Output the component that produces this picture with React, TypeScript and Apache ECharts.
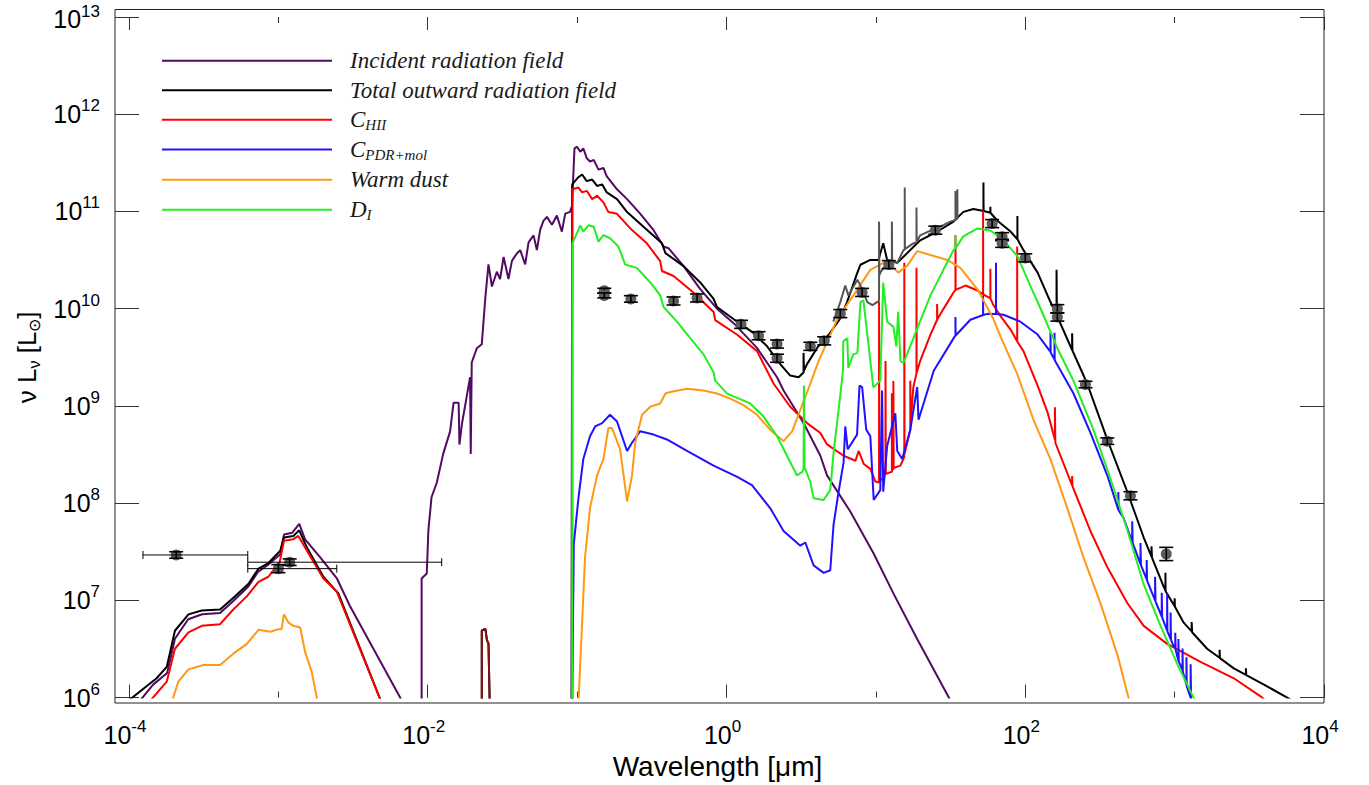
import React, { useEffect, useRef } from 'react';
import * as echarts from 'echarts';

// ---------------- data (wavelength in micron, nu L_nu in L_sun) ----------------
const incidentXray = [[1.13e-4,8.5e5],[1.45e-4,1.36e6],[1.8e-4,1.79e6],[2.03e-4,4.03e6],[2.49e-4,6.4e6],[3.09e-4,7.2e6],[4.07e-4,7.4e6],[4.97e-4,9.8e6],[6.27e-4,1.38e7],[7.3e-4,1.96e7],[8.5e-4,2.31e7],[1.03e-3,2.98e7],[1.09e-3,4.75e7],[1.24e-3,4.97e7],[1.38e-3,6.13e7],[1.51e-3,4.23e7],[1.9e-3,2.78e7],[2.47e-3,1.67e7],[3.02e-3,8.7e6],[7.05e-3,8.1e5]];
const incidentUv = [[9.1e-3,8.5e5],[9.1e-3,1.68e7],[9.85e-3,1.89e7],[1.01e-2,5.27e7],[1.06e-2,1.15e8],[1.15e-2,1.63e8],[1.27e-2,3.23e8],[1.41e-2,5.44e8],[1.49e-2,1.08e9],[1.61e-2,1.08e9],[1.63e-2,4.0e8],[1.69e-2,6.4e8],[1.83e-2,1.29e9],[1.92e-2,1.97e9],[1.94e-2,3.2e8],[1.97e-2,2.79e9],[2.13e-2,3.92e9],[2.3e-2,4.3e9],[2.43e-2,1.31e10],[2.55e-2,2.85e10],[2.69e-2,1.69e10],[2.9e-2,2.4e10],[3.05e-2,2.02e10],[3.22e-2,3.4e10],[3.47e-2,2.02e10],[3.66e-2,3.1e10],[3.95e-2,3.7e10],[4.16e-2,4.0e10],[4.49e-2,2.85e10],[4.73e-2,4.8e10],[5.11e-2,5.67e10],[5.38e-2,4.0e10],[5.66e-2,6.5e10],[5.95e-2,8.0e10],[6.28e-2,8.8e10],[6.78e-2,7.3e10],[7.32e-2,9.1e10],[7.9e-2,6.2e10],[8.33e-2,9.5e10],[8.98e-2,9.9e10],[9.24e-2,1.14e11],[9.6e-2,4.45e11],[0.0997,4.63e11],[0.105,4.11e11],[0.11,4.45e11],[0.116,3.53e11],[0.122,3.26e11],[0.129,3.39e11],[0.139,2.69e11],[0.15,2.8e11],[0.158,2.3e11],[0.185,1.69e11],[0.216,1.34e11],[0.264,9.5e10],[0.325,6.42e10],[0.379,4.36e10],[0.409,4.19e10],[0.516,2.74e10],[0.667,1.59e10],[0.864,1.0e10],[1.12,7.06e9],[1.6,3.95e9],[2.18,1.97e9],[2.41,1.44e9],[3.28,6.66e8],[4.25,3.07e8],[4.71,1.93e8],[6.74,8.2e7],[9.7,3.0e7],[13.1,1.18e7],[18.9,4.0e6],[30.8,1.0e6],[32.6,8.5e5]];

const totalXray = [[1.0e-4,9.4e5],[1.53e-4,1.58e6],[1.79e-4,2.07e6],[2.03e-4,4.87e6],[2.5e-4,7.18e6],[3.07e-4,7.88e6],[4.07e-4,8.06e6],[5.13e-4,1.1e7],[6.29e-4,1.47e7],[7.36e-4,2.12e7],[8.57e-4,2.42e7],[1.03e-3,3.25e7],[1.09e-3,4.43e7],[1.26e-3,4.6e7],[1.38e-3,5.25e7],[1.55e-3,3.51e7],[2.0e-3,1.75e7],[2.52e-3,1.18e7],[4.96e-3,8.5e5]];
const euvBump = [[2.3e-2,8.5e5],[2.3e-2,4.9e6],[2.43e-2,5.1e6],[2.49e-2,3.9e6],[2.55e-2,3.6e6],[2.6e-2,8.5e5]];
const totalMain = [[9.17e-2,8.5e5],[9.27e-2,1.9e11],[0.102,2.25e11],[0.108,2.4e11],[0.116,2.05e11],[0.126,2.13e11],[0.136,1.83e11],[0.147,1.9e11],[0.158,1.57e11],[0.185,1.34e11],[0.216,9.85e10],[0.278,6.95e10],[0.37,4.7e10],[0.39,3.73e10],[0.516,2.74e10],[0.667,1.86e10],[0.82,1.26e10],[0.864,1.04e10],[1.18,7.35e9],[1.52,5.6e9],[1.87,4.1e9],[2.29,2.69e9],[2.67,2.05e9],[3.04,1.97e9],[3.28,2.21e9],[3.28,3.51e9],[3.3,2.3e9],[3.46,2.69e9],[4.04,3.95e9],[4.83,5.39e9],[5.78,7.93e9],[6.41,1.17e10],[7.52,2.35e10],[7.88,2.83e10],[9.18,3.17e10],[10.4,3.17e10],[11.2,4.7e10],[11.9,3.17e10],[13.9,2.96e10],[16.2,3.73e10],[19.8,5.05e10],[25.8,6.22e10],[33.1,7.86e10],[38.5,9.9e10],[45,1.06e11],[52.5,1.01e11],[52.5,1.99e11],[52.6,1.01e11],[58.4,9.7e10],[58.4,1.12e11],[58.5,9.7e10],[65.1,8.03e10],[79.7,6.22e10],[88.6,5.17e10],[88.6,9.0e10],[88.7,5.17e10],[97.3,4.0e10],[121,2.35e10],[147.5,1.17e10],[162,8.66e9],[162,2.51e10],[163,8.5e9],[180,6.0e9],[206,3.74e9],[206,5.6e9],[207,3.7e9],[224,2.83e9],[260,1.69e9],[354,4.52e8],[482,1.31e8],[621,4.43e7],[700,2.82e7],[700,3.6e7],[705,2.75e7],[846,1.38e7],[868,1.26e7],[868,1.92e7],[870,1.24e7],[1000,8.7e6],[1000,1.05e7],[1005,8.6e6],[1150,5.9e6],[1300,4.8e6],[1300,6.0e6],[1310,4.7e6],[1650,3.18e6],[2000,2.57e6],[2000,3.1e6],[2010,2.55e6],[2490,2.0e6],[3000,1.71e6],[3000,2.0e6],[3020,1.7e6],[3960,1.36e6],[5670,1.0e6],[6450,8.9e5]];

const hiiXray = [[1.32e-4,8.5e5],[1.79e-4,1.46e6],[2.03e-4,3.18e6],[2.5e-4,4.68e6],[3.07e-4,5.47e6],[4.07e-4,5.69e6],[4.99e-4,8.06e6],[6.15e-4,1.1e7],[7.36e-4,1.55e7],[8.57e-4,1.75e7],[1.02e-3,2.47e7],[1.09e-3,4.1e7],[1.26e-3,4.26e7],[1.36e-3,4.6e7],[1.55e-3,3.25e7],[2.0e-3,1.68e7],[2.46e-3,1.23e7],[4.96e-3,8.5e5]];
const hiiMain = [[9.27e-2,8.5e5],[9.3e-2,1.69e11],[0.102,1.76e11],[0.108,1.57e11],[0.116,1.63e11],[0.126,1.34e11],[0.136,1.45e11],[0.15,1.24e11],[0.162,9.85e10],[0.185,9.45e10],[0.227,6.69e10],[0.293,4.7e10],[0.36,3.08e10],[0.37,2.44e10],[0.442,2.17e10],[0.6,1.47e10],[0.82,9.25e9],[0.84,7.64e9],[1.18,5.39e9],[1.6,3.66e9],[2.07,1.69e9],[2.67,9.8e8],[3.46,6.66e8],[4.25,5.27e8],[4.71,4.02e8],[6.08,3.07e8],[7.3,2.73e8],[7.67,3.44e8],[8.29,2.53e8],[9.18,2.25e8],[9.92,1.67e8],[10.5,1.63e8],[10.5,1.17e10],[10.55,1.7e8],[11.05,1.78e8],[11.6,2.0e8],[11.6,2.9e9],[11.65,2.0e8],[12.8,2.1e8],[12.8,1.35e9],[12.85,2.2e8],[13.1,2.25e8],[13.1,1.8e9],[13.15,2.3e8],[14.6,2.43e8],[15.5,3.0e8],[15.5,2.96e10],[15.55,3.2e8],[16.6,4.88e8],[17.0,5.7e8],[17.0,1.82e9],[17.05,6.2e8],[17.8,1.55e9],[18.7,2.16e9],[18.7,2.63e10],[18.75,2.2e9],[19.8,2.9e9],[23.2,5.42e9],[25.7,7.7e9],[25.7,1.12e10],[25.8,7.8e9],[28.3,9.9e9],[33.1,1.47e10],[34.1,1.55e10],[34.1,5.7e10],[34.2,1.56e10],[39.8,1.73e10],[47.9,1.54e10],[52.2,1.4e10],[52.2,1.02e11],[52.3,1.4e10],[58.4,1.28e10],[58.4,2.57e10],[58.5,1.27e10],[61.2,1.09e10],[68.2,8.45e9],[79.7,6.1e9],[88.3,4.62e9],[88.3,4.36e10],[88.4,4.6e9],[97.3,3.66e9],[121,1.62e9],[141,8.6e8],[158,4.5e8],[158,9.7e8],[159,4.18e8],[206,1.52e8],[206,1.9e8],[207,1.5e8],[273,5.17e7],[354,2.2e7],[482,9.4e6],[621,5.47e6],[891,3.57e6],[1490,2.33e6],[2490,1.58e6],[3760,1.03e6],[4060,9.3e5]];

const pdrMain = [[9.27e-2,8.5e5],[9.5e-2,3.79e7],[0.102,1.12e8],[0.11,2.84e8],[0.122,4.88e8],[0.132,6.15e8],[0.147,6.66e8],[0.166,8.1e8],[0.185,6.9e8],[0.216,3.44e8],[0.233,4.18e8],[0.264,5.48e8],[0.325,5.07e8],[0.399,4.52e8],[0.544,3.44e8],[0.82,2.43e8],[1.18,1.86e8],[1.48,1.53e8],[1.96,8.9e7],[2.41,5.17e7],[3.12,3.65e7],[3.37,3.94e7],[3.83,2.29e7],[4.47,1.92e7],[4.95,2.04e7],[5.21,6.03e7],[5.63,1.31e8],[6.08,2.63e8],[6.24,6.15e8],[6.48,3.58e8],[7.48,5.07e8],[7.77,1.62e9],[8.09,1.56e9],[8.62,5.7e8],[9.18,4.88e8],[9.67,1.08e8],[10.7,1.36e8],[11.0,1.44e9],[11.2,1.31e8],[11.9,3.87e8],[13.5,8.4e8],[13.9,3.44e8],[15.0,2.84e8],[17.0,5.7e8],[18.9,1.56e9],[19.3,7.2e8],[24.4,2.3e9],[33.1,4.95e9],[34.1,5.3e9],[34.1,8.2e9],[34.2,5.3e9],[42.9,7.7e9],[52.2,8.6e9],[52.2,1.37e10],[52.3,8.6e9],[55.8,8.85e9],[63.7,8.8e9],[63.7,2.96e10],[63.8,8.8e9],[71.5,8.66e9],[92.8,7.35e9],[121,5.42e9],[147.5,3.6e9],[147.5,5.67e9],[148,3.55e9],[157,3.0e9],[157,5.67e9],[157.5,2.95e9],[210,1.35e9],[273,5.3e8],[355,1.91e8],[420,8.5e7],[420,1.3e8],[422,8.4e7],[455,7.05e7],[520,4.0e7],[520,6.5e7],[524,3.9e7],[591,2.36e7],[591,3.9e7],[595,2.3e7],[650,1.64e7],[650,2.6e7],[654,1.6e7],[740,1.0e7],[740,1.75e7],[745,9.7e6],[768,8.7e6],[820,6.8e6],[820,1.2e7],[825,6.7e6],[891,4.87e6],[891,1.18e7],[895,4.8e6],[940,4.0e6],[940,7.5e6],[945,3.95e6],[980,3.43e6],[1010,3.2e6],[1010,4.65e6],[1015,3.1e6],[1060,2.39e6],[1060,4.0e6],[1066,2.35e6],[1130,1.92e6],[1130,3.2e6],[1135,1.85e6],[1200,1.35e6],[1200,2.6e6],[1206,1.3e6],[1280,1.0e6],[1280,2.2e6],[1290,9.0e5],[1340,8.1e5]];

const warmXray = [[1.91e-4,8.5e5],[2.14e-4,1.46e6],[2.5e-4,1.95e6],[3.15e-4,2.16e6],[4.07e-4,2.16e6],[4.99e-4,2.83e6],[6.15e-4,3.57e6],[7.36e-4,4.98e6],[8.83e-4,4.76e6],[1.0e-3,5.06e6],[1.05e-3,5.06e6],[1.09e-3,7.18e6],[1.17e-3,5.9e6],[1.26e-3,5.47e6],[1.4e-3,5.26e6],[1.51e-3,2.94e6],[1.67e-3,1.85e6],[1.81e-3,1.0e6],[1.83e-3,8.5e5]];
const warmMain = [[0.102,8.5e5],[0.108,5.9e6],[0.113,2.78e7],[0.122,8.9e7],[0.136,1.93e8],[0.15,2.84e8],[0.162,5.94e8],[0.171,5.94e8],[0.194,3.58e8],[0.216,1.04e8],[0.233,1.93e8],[0.245,4.18e8],[0.272,8.1e8],[0.309,9.8e8],[0.36,1.06e9],[0.39,1.34e9],[0.42,1.39e9],[0.544,1.5e9],[0.702,1.44e9],[0.864,1.34e9],[1.06,1.19e9],[1.3,1.02e9],[1.6,8.1e8],[1.96,5.7e8],[2.41,4.34e8],[2.75,5.48e8],[3.12,9.1e8],[3.64,1.69e9],[4.14,2.9e9],[5.53,7.87e9],[7.07,1.37e10],[9.18,2.51e10],[11.9,3.1e10],[14.1,2.35e10],[16.2,2.76e10],[18.9,3.91e10],[23.2,3.56e10],[30.1,3.17e10],[36.8,2.63e10],[47.9,1.58e10],[61.2,7.87e9],[68.2,5.2e9],[88.3,2.14e9],[113.5,7.2e8],[147.5,2.84e8],[191,8.9e7],[245,2.78e7],[319,9.3e6],[415,2.72e6],[491,1.0e6],[511,8.5e5]];

const diMain = [[9.27e-2,8.5e5],[9.3e-2,4.7e10],[0.105,7.2e10],[0.11,6.2e10],[0.119,7.2e10],[0.129,6.95e10],[0.139,4.9e10],[0.15,5.7e10],[0.166,5.3e10],[0.189,4.36e10],[0.21,2.84e10],[0.251,2.63e10],[0.309,1.86e10],[0.36,1.37e10],[0.379,1.04e10],[0.466,7.35e9],[0.572,4.98e9],[0.702,3.39e9],[0.82,2.21e9],[0.84,1.82e9],[1.01,1.34e9],[1.44,1.06e9],[1.77,7.77e8],[2.18,4.88e8],[2.54,3.07e8],[2.96,1.93e8],[3.2,2.08e8],[3.28,2.25e8],[3.3,1.62e9],[3.33,2.34e8],[3.64,1.65e8],[3.83,1.12e8],[4.47,1.08e8],[4.95,1.36e8],[5.21,3.31e8],[5.78,1.29e9],[6.02,2.3e9],[6.05,4.62e9],[6.44,4.95e9],[6.54,2.46e9],[7.07,3.41e9],[7.52,3.49e9],[7.88,1.17e10],[8.25,1.22e10],[8.77,5.42e9],[9.18,2.9e9],[9.62,1.55e9],[10.7,1.82e9],[11.2,1.86e10],[11.9,7.35e9],[13.1,6.5e9],[13.7,4.1e9],[14.1,9.3e9],[14.6,2.9e9],[15.3,2.76e9],[18.9,6.25e9],[23.2,1.37e10],[28.3,2.51e10],[33.1,4.0e10],[34.1,4.2e10],[34.1,5.7e10],[34.2,4.2e10],[38.5,5.54e10],[47.9,6.69e10],[58.4,6.36e10],[71.5,5.05e10],[88.6,3.48e10],[108,1.73e10],[132,8.66e9],[164,3.92e9],[210,1.82e9],[286,5.7e8],[372,1.78e8],[484,5.2e7],[619,1.48e7],[805,5.47e6],[1050,2.16e6],[1340,1.0e6],[1400,8.1e5]];

const irsSpectrum = [[5.19,7.35e9],[5.78,1.17e10],[6.24,1.73e10],[6.54,1.37e10],[7.52,1.99e10],[7.88,1.73e10],[8.77,1.17e10],[9.48,1.09e10],[10.2,1.17e10],[10.5,1.2e10],[10.5,7.86e10],[10.55,2.2e10],[10.7,2.35e10],[11.9,2.96e10],[12.8,3.1e10],[12.8,7.86e10],[12.85,3.1e10],[13.9,2.96e10],[15.3,4.0e10],[15.6,4.05e10],[15.6,1.76e11],[15.65,4.1e10],[17.8,4.7e10],[18.7,4.8e10],[18.7,1.1e11],[18.75,4.9e10],[19.8,5.67e10],[23.2,6.36e10],[27.0,6.98e10],[31.5,7.86e10],[34.1,8.2e10],[34.1,1.62e11],[34.5,8.3e10],[35.1,8.4e10],[35.1,1.69e11],[35.2,8.4e10]];

// photometry
const obsWave = [0.152, 0.152, 0.229, 0.442, 0.635, 1.25, 1.64, 2.18, 2.18, 3.64, 4.51, 5.78, 8.09, 12.2, 25.0, 60.0, 70.0, 70.0, 100, 164, 164, 253, 354, 506, 879];
const obsLum = [1.53e10, 1.37e10, 1.26e10, 1.2e10, 1.29e10, 6.9e9, 5.27e9, 4.33e9, 3.09e9, 4.1e9, 4.67e9, 8.9e9, 1.47e10, 2.84e10, 6.42e10, 7.5e10, 5.5e10, 4.7e10, 3.33e10, 1.0e10, 8.2e9, 1.66e9, 4.34e8, 1.19e8, 3.0e7];
const obsErr = [0.06, 0.06, 0.08, 0.1, 0.1, 0.1, 0.1, 0.1, 0.1, 0.1, 0.1, 0.1, 0.1, 0.1, 0.1, 0.1, 0.1, 0.1, 0.1, 0.1, 0.1, 0.08, 0.08, 0.1, 0.17];
const xrayWave = [2.07e-4, 1.0e-3, 1.19e-3];
const xrayLum = [2.93e7, 2.12e7, 2.47e7];
const xrayErr = [0.08, 0.1, 0.08];
const xrayWaveLo = [1.24e-4, 6.24e-4, 6.24e-4];
const xrayWaveHi = [6.24e-4, 2.46e-3, 1.24e-2];

const legendNames = ['Incident radiation field', 'Total outward radiation field', 'C_HII', 'C_PDR+mol', 'Warm dust', 'D_I'];
const legendLabels: Record<string, string> = {
  'Incident radiation field': '{m|Incident radiation field}',
  'Total outward radiation field': '{m|Total outward radiation field}',
  'C_HII': '{m|C}{s|HII}',
  'C_PDR+mol': '{m|C}{s|PDR+mol}',
  'Warm dust': '{m|Warm dust}',
  'D_I': '{m|D}{s|I}',
};
const legendRowY = [62.3, 91.7, 121.3, 151, 181.3, 211.3];

const SANS = "'Liberation Sans', Arial, sans-serif";
const SERIF = "'Liberation Serif', 'Times New Roman', serif";

const COLORS = {
  incident: '#520a62',
  total: '#000000',
  hii: '#ff0000',
  pdr: '#2211ff',
  warm: '#ff9914',
  di: '#22ee22',
  irs: '#555555',
};

export default function App() {
  const ref = useRef<HTMLDivElement | null>(null);
  useEffect(() => {
    document.body.style.margin = '0';
    const el = ref.current;
    if (!el) return;
    const chart = echarts.init(el, null, { renderer: 'svg' });

    const line = (name: string, data: number[][], color: string, z: number) => ({
      type: 'line', name, data, xAxisIndex: 0, yAxisIndex: 0,
      showSymbol: false, symbol: 'none', clip: true, silent: true, z,
      lineStyle: { color, width: 2 }, itemStyle: { color },
    });

    const tickRich = {
      b: { fontFamily: SANS, fontSize: 25, lineHeight: 34, color: '#000' },
      s: { fontFamily: SANS, fontSize: 17, lineHeight: 17, verticalAlign: 'top', color: '#000' },
      bt: { fontFamily: SANS, fontSize: 25, lineHeight: 34, padding: [3, 0, 0, 0], color: '#000' },
      st: { fontFamily: SANS, fontSize: 17, lineHeight: 17, verticalAlign: 'top', padding: [3, 0, 0, 0], color: '#000' },
    };
    const xFmt = (v: number) => `{b|10}{s|${Math.round(Math.log10(v))}}`;
    const yFmt = (v: number) => {
      const e = Math.round(Math.log10(v));
      return e === 13 ? `{bt|10}{st|${e}}` : `{b|10}{s|${e}}`;
    };
    const tickStyle = { color: '#333', width: 1 };

    const xBase = { type: 'log', min: 1e-4, max: 1e4, axisLine: { show: false }, splitLine: { show: false } };
    const yBase = { type: 'log', logBase: 10, min: 1e6, max: 1e13, axisLine: { show: false }, splitLine: { show: false } };

    const errSeries = (id: string, data: number[][], withX: boolean) => ({
      type: 'custom', name: id, xAxisIndex: 0, yAxisIndex: 0, z: 20, silent: true,
      data, encode: { x: 0, y: 1 },
      renderItem: (_p: any, api: any) => {
        const x = api.value(0), y = api.value(1), e = api.value(2);
        const c = api.coord([x, y]);
        const hi = api.coord([x, y * (1 + e)]);
        const lo = api.coord([x, y / (1 + e)]);
        const cap = 7;
        const st = { stroke: '#000', lineWidth: 1.6 };
        const children: any[] = [
          { type: 'circle', shape: { cx: c[0], cy: c[1], r: 5.5 }, style: { fill: '#5c5c5c' } },
          { type: 'line', shape: { x1: c[0], y1: hi[1], x2: c[0], y2: lo[1] }, style: st },
          { type: 'line', shape: { x1: c[0] - cap, y1: hi[1], x2: c[0] + cap, y2: hi[1] }, style: st },
          { type: 'line', shape: { x1: c[0] - cap, y1: lo[1], x2: c[0] + cap, y2: lo[1] }, style: st },
        ];
        if (withX) {
          const l = api.coord([api.value(3), y]);
          const r = api.coord([api.value(4), y]);
          const hs = { stroke: '#000', lineWidth: 1 };
          children.push({ type: 'line', shape: { x1: l[0], y1: c[1], x2: r[0], y2: c[1] }, style: hs });
          children.push({ type: 'line', shape: { x1: l[0], y1: c[1] - 4, x2: l[0], y2: c[1] + 4 }, style: hs });
          children.push({ type: 'line', shape: { x1: r[0], y1: c[1] - 4, x2: r[0], y2: c[1] + 4 }, style: hs });
        }
        return { type: 'group', children };
      },
    });

    const legends = legendNames.map((n, i) => ({
      data: [n], orient: 'vertical', left: 162, top: legendRowY[i] - 13, padding: 0,
      itemWidth: 170, itemHeight: 2, icon: 'rect', selectedMode: false,
      formatter: (name: string) => legendLabels[name],
      textStyle: {
        rich: {
          m: { fontFamily: SERIF, fontStyle: 'italic', fontSize: 23, lineHeight: 26, color: '#1a1a1a', padding: [0, 0, 0, 13] },
          s: { fontFamily: SERIF, fontStyle: 'italic', fontSize: 15, lineHeight: 12, verticalAlign: 'bottom', color: '#1a1a1a' },
        },
      },
    }));

    const option: any = {
      animation: false,
      backgroundColor: '#ffffff',
      grid: { left: 129, right: 45, top: 9.5, bottom: 82, containLabel: false },
      legend: legends,
      xAxis: [
        {
          ...xBase, logBase: 100, position: 'bottom',
          axisTick: { show: true, inside: true, length: 13, lineStyle: tickStyle },
          axisLabel: { show: true, margin: 20, formatter: xFmt, rich: tickRich, padding: [0, 8, 0, 0] },
          name: 'Wavelength [μm]', nameLocation: 'middle', nameGap: 50,
          nameTextStyle: { fontFamily: SANS, fontSize: 28, color: '#000', padding: [0, 18, 0, 0] },
        },
        { ...xBase, logBase: 10, position: 'bottom', axisTick: { show: true, inside: true, length: 6, lineStyle: tickStyle }, axisLabel: { show: false } },
        { ...xBase, logBase: 100, position: 'top', axisTick: { show: true, inside: true, length: 13, lineStyle: tickStyle }, axisLabel: { show: false } },
        { ...xBase, logBase: 10, position: 'top', axisTick: { show: true, inside: true, length: 6, lineStyle: tickStyle }, axisLabel: { show: false } },
      ],
      yAxis: [
        {
          ...yBase, position: 'left', offset: 14,
          axisTick: { show: true, inside: true, length: 24, lineStyle: tickStyle },
          axisLabel: { show: true, margin: 15, formatter: yFmt, rich: tickRich },
          name: '{a|ν L}{b|ν}{a| [L}{b|⊙}{a|]}', nameLocation: 'middle', nameGap: 72, nameRotate: 90,
          nameTextStyle: {
            rich: {
              a: { fontFamily: SANS, fontSize: 26, lineHeight: 30, color: '#000' },
              b: { fontFamily: SANS, fontSize: 16, lineHeight: 14, verticalAlign: 'bottom', color: '#000' },
            },
          },
        },
        { ...yBase, position: 'right', axisTick: { show: true, inside: true, length: 24, lineStyle: tickStyle }, axisLabel: { show: false } },
      ],
      graphic: [
        { type: 'rect', silent: true, z: 100, shape: { x: 115, y: 9.5, width: 1209, height: 693.5 }, style: { fill: 'none', stroke: '#222', lineWidth: 1 } },
      ],
      series: [
        line('Incident radiation field', incidentXray, COLORS.incident, 2),
        line('Incident radiation field', incidentUv, COLORS.incident, 2),
        line('Total outward radiation field', totalXray, COLORS.total, 3),
        line('Total outward radiation field', euvBump, COLORS.total, 3),
        line('Total outward radiation field', totalMain, COLORS.total, 3),
        line('C_HII', hiiXray, COLORS.hii, 4),
        line('C_HII', euvBump, '#8a1010', 4),
        line('C_HII', hiiMain, COLORS.hii, 4),
        line('C_PDR+mol', pdrMain, COLORS.pdr, 5),
        line('Warm dust', warmXray, COLORS.warm, 6),
        line('Warm dust', warmMain, COLORS.warm, 6),
        line('D_I', diMain, COLORS.di, 7),
        line('Observed spectrum', irsSpectrum, COLORS.irs, 8),
        errSeries('Photometry', obsWave.map((w, i) => [w, obsLum[i], obsErr[i]]), false),
        errSeries('X-ray photometry', xrayWave.map((w, i) => [w, xrayLum[i], xrayErr[i], xrayWaveLo[i], xrayWaveHi[i]]), true),
      ],
    };
    chart.setOption(option);
    return () => chart.dispose();
  }, []);
  return <div ref={ref} style={{ width: '1369px', height: '785px' }} />;
}
